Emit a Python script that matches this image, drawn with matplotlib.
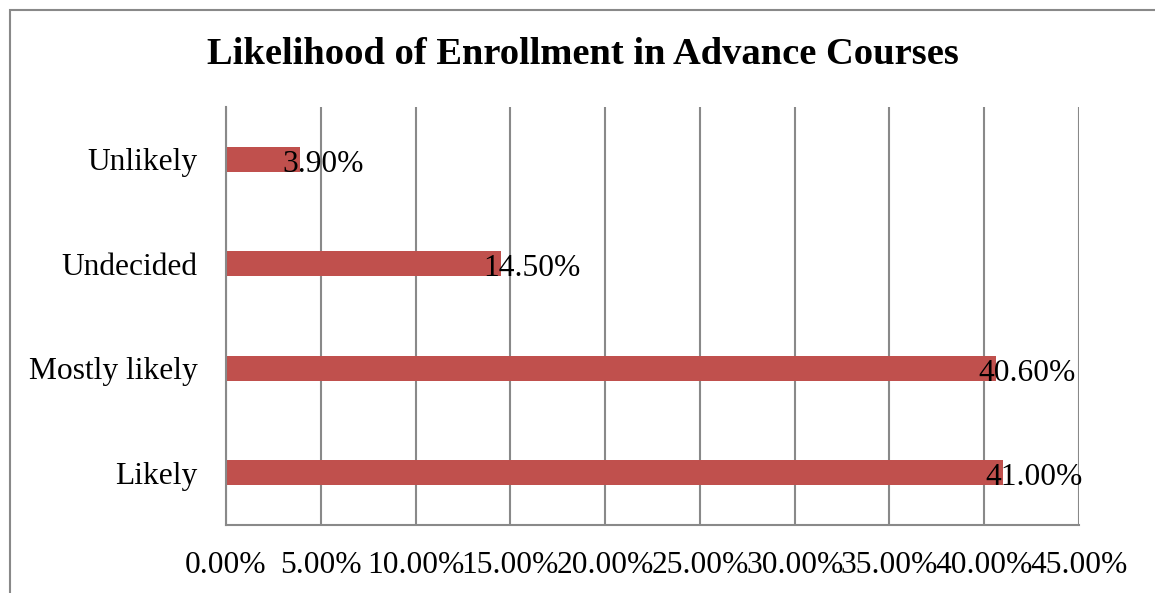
import matplotlib
matplotlib.use("Agg")
import matplotlib.pyplot as plt
from matplotlib.patches import Rectangle
from matplotlib.ticker import FuncFormatter, MultipleLocator

# Survey responses
categories = ["Likely", "Mostly likely", "Undecided", "Unlikely"]
percentages = [41.00, 40.60, 14.50, 3.90]
title = "Likelihood of Enrollment in Advance Courses"

bar_color = "#C0504D"
grid_color = "#898989"
font = "Liberation Serif"
text_size = 22.7

fig = plt.figure(figsize=(11.55, 5.93), dpi=100)
ax = fig.add_axes([226 / 1155, 1 - 525 / 593, 853 / 1155, 418 / 593])

y = range(len(categories))
ax.barh(y, percentages, height=0.24, color=bar_color, zorder=2)

ax.set_xlim(0, 45)
ax.set_ylim(-0.5, len(categories) - 0.5)
ax.xaxis.set_major_locator(MultipleLocator(5))
ax.xaxis.set_major_formatter(FuncFormatter(lambda v, _: f"{v:.2f}%"))
ax.set_yticks(list(y))
ax.set_yticklabels(categories)

ax.grid(axis="x", color=grid_color, linewidth=1.5, zorder=1)
ax.tick_params(axis="both", length=0, labelsize=text_size)
ax.tick_params(axis="x", pad=19)
ax.tick_params(axis="y", pad=20.5)
for lbl in ax.get_xticklabels() + ax.get_yticklabels():
    lbl.set_fontfamily(font)

for side in ("top", "right"):
    ax.spines[side].set_visible(False)
for side in ("left", "bottom"):
    ax.spines[side].set_color(grid_color)
    ax.spines[side].set_linewidth(1.5)

# Value labels straddling each bar end
for yi, v in zip(y, percentages):
    ax.annotate(f"{v:.2f}%", xy=(v, yi), xytext=(-12.5, -8.9),
                textcoords="offset points", ha="left", va="baseline",
                fontsize=text_size, family=font, zorder=3)

fig.text(583 / 1155, 1 - 64 / 593, title, ha="center", va="baseline",
         fontsize=27.7, fontweight="bold", family=font)

# Outer chart frame
fig.add_artist(Rectangle((10 / 1155, -0.1), 2.0, (593 - 10) / 593 + 0.1,
                         transform=fig.transFigure, fill=False,
                         edgecolor=grid_color, linewidth=1.5))

fig.savefig("out.png", dpi=100)
